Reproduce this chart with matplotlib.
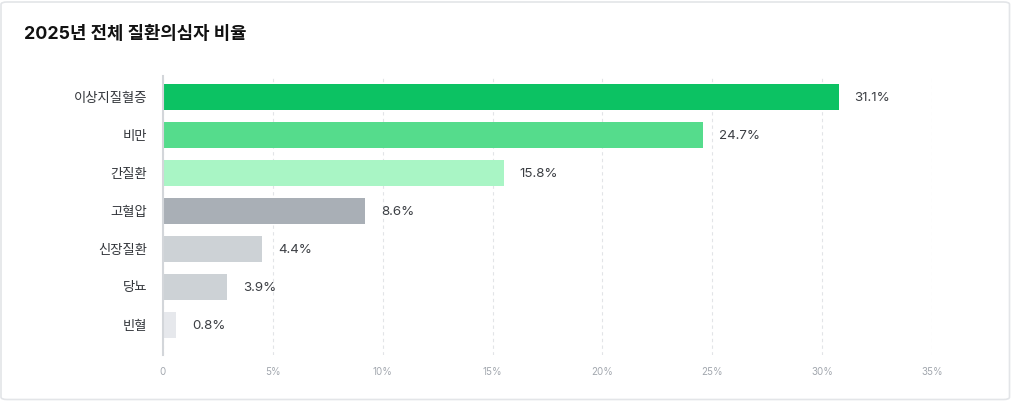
import matplotlib
matplotlib.use("Agg")
import matplotlib.pyplot as plt
from matplotlib.patches import FancyBboxPatch
import numpy as np

# data
categories = ["이상지질혈증", "비만", "간질환", "고혈압", "신장질환", "당뇨", "빈혈"]
bar_values = [30.75, 24.6, 15.5, 9.2, 4.5, 2.9, 0.6]       # drawn bar lengths (%)
label_values = [31.1, 24.7, 15.8, 8.6, 4.4, 3.9, 0.8]      # printed value labels (%)
bar_colors = ["#0CC263", "#55DC8C", "#A9F5C5", "#A9AFB6", "#CDD2D6", "#CDD2D6", "#E6E8EC"]
x_ticks = [0, 5, 10, 15, 20, 25, 30, 35]
x_tick_labels = ["0", "5%", "10%", "15%", "20%", "25%", "30%", "35%"]
title = "2025년 전체 질환의심자 비율"

FONTS = ["Inter", "Noto Sans CJK KR", "DejaVu Sans"]
plt.rcParams["font.family"] = FONTS

W, H = 1012, 401
fig = plt.figure(figsize=(W / 100, H / 100), dpi=100)
fig.patch.set_facecolor("white")

# outer card border
card = FancyBboxPatch((1 / W, 1.5 / H), 1 - 3.5 / W, 1 - 3.5 / H,
                      boxstyle="round,pad=0,rounding_size=0.006",
                      transform=fig.transFigure, facecolor="none",
                      edgecolor="#E3E5E8", linewidth=1.2, zorder=-1)
fig.patches.append(card)

left, right, top, bottom = 163, 932, 76, 355
ax = fig.add_axes([left / W, 1 - bottom / H, (right - left) / W, (bottom - top) / H])
ax.set_facecolor("none")

y = np.arange(len(categories))
bars = ax.barh(y, bar_values, height=0.68, color=bar_colors, edgecolor="none", zorder=3)

for rect, val in zip(bars, label_values):
    ax.annotate(f"{val}%", xy=(rect.get_width(), rect.get_y() + rect.get_height() / 2),
                xytext=(11.5, -0.5), textcoords="offset points",
                ha="left", va="center", fontsize=9.6, color="#3C3F44")

ax.set_xlim(0, 35)
ax.set_ylim(len(categories) - 1 + 0.79, -0.553)
ax.set_xticks(x_ticks)
ax.set_xticklabels(x_tick_labels, fontsize=7, color="#A3A8AF")
ax.set_yticks(y)
ax.set_yticklabels(categories, fontsize=9.6, color="#33363B")
ax.tick_params(axis="x", length=0, pad=8.5)
ax.tick_params(axis="y", length=0, pad=11.5)

for s in ["top", "right", "bottom"]:
    ax.spines[s].set_visible(False)
ax.spines["left"].set_color("#D3D6DA")
ax.spines["left"].set_linewidth(1.5)
ax.spines["left"].set_zorder(4)

ax.grid(axis="x", linestyle=(0, (3, 3)), color="#E2E4E7", linewidth=0.8, zorder=0)
ax.grid(axis="y", visible=False)

fig.text(24 / W, 1 - 34 / H, title, ha="left", va="center",
         fontsize=12.8, fontweight="bold", color="#111111")

fig.savefig("out.png", dpi=100, facecolor="white")
